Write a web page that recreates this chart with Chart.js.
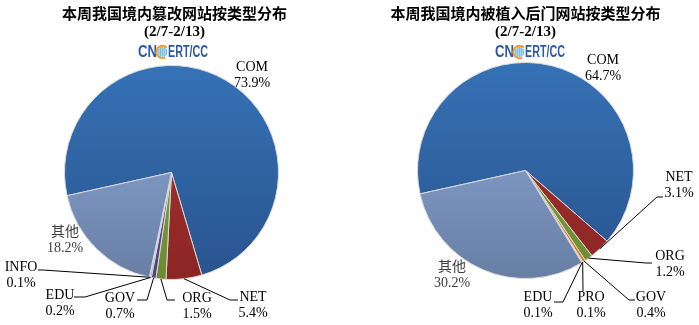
<!DOCTYPE html>
<html>
<head>
<meta charset="utf-8">
<script src="https://cdn.jsdelivr.net/npm/chart.js@4.4.0/dist/chart.umd.min.js"></script>
<style>
body { margin: 0; background: #fff; }
#wrap { position: relative; width: 699px; height: 325px; }
canvas { position: absolute; top: 0; }
</style>
</head>
<body>
<div id="wrap">
  <canvas id="tamper" width="350" height="325" style="left:0"></canvas>
  <canvas id="backdoor" width="349" height="325" style="left:350px"></canvas>
</div>
<script>
// 篡改网站按类型分布 (%)
var tamperCats = ['COM', 'NET', 'ORG', 'GOV', 'EDU', 'INFO', '其他'];
var tamperPct = [73.9, 5.4, 1.5, 0.7, 0.2, 0.1, 18.2];
// 被植入后门网站按类型分布 (%)
var backdoorCats = ['COM', 'NET', 'ORG', 'GOV', 'PRO', 'EDU', '其他'];
var backdoorPct = [64.7, 3.1, 1.2, 0.4, 0.1, 0.1, 30.2];
var period = '(2/7-2/13)';

// gradient top / bottom per slice
var tamperColors = [
  ['#3572b6', '#29538d'], ['#ad3532', '#8a2624'], ['#8aab42', '#6c8a30'],
  ['#6e56a3', '#56407f'], ['#45a6c0', '#347f95'], ['#f39234', '#d87520'],
  ['#91addd', '#687ea4']
];
var backdoorColors = [
  ['#3572b6', '#29538d'], ['#ad3532', '#8a2624'], ['#8aab42', '#6c8a30'],
  ['#f08a2c', '#d9741c'], ['#f39a3a', '#dc7c22'], ['#f39234', '#d87520'],
  ['#91addd', '#687ea4']
];

// label text positions (first line centre) and leader lines, canvas px
var tamperLabelPos = [
  {x: 252, y: 67},
  {x: 253, y: 297, elbow: [230, 300], end: [238, 300]},
  {x: 197, y: 298, elbow: [167, 300], end: [175, 300]},
  {x: 120, y: 298, elbow: [147, 300], end: [137, 300]},
  {x: 60, y: 295, elbow: [85, 297], end: [74, 297]},
  {x: 21, y: 267, elbow: [43, 270], end: [38, 270]},
  {x: 65, y: 232, color: '#404040'}
];
var backdoorLabelPos = [
  {x: 253, y: 60},
  {x: 329, y: 177, elbow: [307, 197], end: [313, 197]},
  {x: 320, y: 256, elbow: [296, 263], end: [302, 263]},
  {x: 301, y: 297, elbow: [279, 300], end: [285, 300]},
  {x: 241, y: 297, elbow: [233, 291], end: [233, 291]},
  {x: 188, y: 297, elbow: [213, 302], end: [204, 302]},
  {x: 102, y: 267, color: '#404040'}
];

function drawLogo(c, cx, cy) {
  var blue = '#2c5aa6';
  c.save();
  c.fillStyle = blue;
  c.textAlign = 'left';
  c.textBaseline = 'middle';
  c.font = 'bold 16px "Liberation Sans", Arial, sans-serif';
  var w1 = c.measureText('CN').width, w2 = c.measureText('ERT/CC').width;
  var x0 = cx - 35;
  c.save();
  c.translate(x0, cy);
  c.scale(19 / w1, 1);
  c.fillText('CN', 0, 1);
  c.restore();
  // globe in place of the second C
  var gx = x0 + 24.5;
  c.beginPath();
  c.arc(gx, cy, 5, 0, Math.PI * 2);
  c.fillStyle = '#a9d8ee';
  c.fill();
  c.fillStyle = '#5aa6d6';
  for (var i = -2; i <= 2; i++) {
    for (var j = -2; j <= 2; j++) {
      if (i * i + j * j <= 5) c.fillRect(gx + i * 2 - 0.5, cy + j * 2 - 0.5, 1, 1);
    }
  }
  c.beginPath();
  c.arc(gx, cy, 6.2, Math.PI * 0.35, Math.PI * 1.75);
  c.strokeStyle = '#f09a2a';
  c.lineWidth = 2;
  c.stroke();
  c.save();
  c.translate(x0 + 30, cy);
  c.scale(40 / w2, 1);
  c.fillStyle = blue;
  c.fillText('ERT/CC', 0, 1);
  c.restore();
  c.restore();
}

var pieDecor = {
  id: 'pieDecor',
  afterDatasetsDraw: function(chart, args, opts) {
    var c = chart.ctx;
    var arcs = chart.getDatasetMeta(0).data;
    var cats = chart.data.labels;
    var vals = chart.data.datasets[0].data;
    c.save();
    c.textAlign = 'center';
    c.textBaseline = 'middle';
    c.fillStyle = '#000';
    c.font = 'bold 15px "Noto Sans CJK SC", sans-serif';
    c.fillText(opts.title, opts.titleX, 13);
    c.font = 'bold 15px "Liberation Serif", serif';
    c.fillText(period, opts.titleX, 32);
    drawLogo(c, opts.logoX, 52);

    c.strokeStyle = '#000';
    c.lineWidth = 1;
    c.font = '14px "Liberation Serif", "Noto Sans CJK SC", serif';
    opts.labelPos.forEach(function(p, i) {
      var a = arcs[i];
      if (p.elbow) {
        var mid = (a.startAngle + a.endAngle) / 2;
        var ax = a.x + Math.cos(mid) * a.outerRadius;
        var ay = a.y + Math.sin(mid) * a.outerRadius;
        c.beginPath();
        c.moveTo(ax, ay);
        c.lineTo(p.elbow[0], p.elbow[1]);
        c.lineTo(p.end[0], p.end[1]);
        c.stroke();
      }
      c.fillStyle = p.color || '#000';
      c.fillText(cats[i], p.x, p.y);
      c.fillText(vals[i].toFixed(1) + '%', p.x, p.y + 16);
    });
    c.restore();
  }
};

function makePie(id, cats, vals, colors, labelPos, title, titleX, logoX, padding) {
  new Chart(document.getElementById(id), {
    type: 'pie',
    data: {
      labels: cats,
      datasets: [{
        data: vals,
        backgroundColor: function(ctx) {
          var col = colors[ctx.dataIndex];
          var area = ctx.chart.chartArea;
          if (!area) return col[0];
          var g = ctx.chart.ctx.createLinearGradient(0, area.top, 0, area.bottom);
          g.addColorStop(0, col[0]);
          g.addColorStop(1, col[1]);
          return g;
        },
        borderColor: '#d9d9d9',
        borderWidth: 1
      }]
    },
    options: {
      responsive: false,
      animation: false,
      rotation: -102.5,
      layout: { padding: padding },
      plugins: {
        legend: { display: false },
        tooltip: { enabled: false },
        pieDecor: { title: title, titleX: titleX, logoX: logoX, labelPos: labelPos }
      }
    },
    plugins: [pieDecor]
  });
}

makePie('tamper', tamperCats, tamperPct, tamperColors, tamperLabelPos,
  '本周我国境内篡改网站按类型分布', 174.5, 173,
  {left: 64, top: 65, right: 71, bottom: 45});
makePie('backdoor', backdoorCats, backdoorPct, backdoorColors, backdoorLabelPos,
  '本周我国境内被植入后门网站按类型分布', 175.5, 180,
  {left: 67, top: 62, right: 65, bottom: 46});
</script>
</body>
</html>
